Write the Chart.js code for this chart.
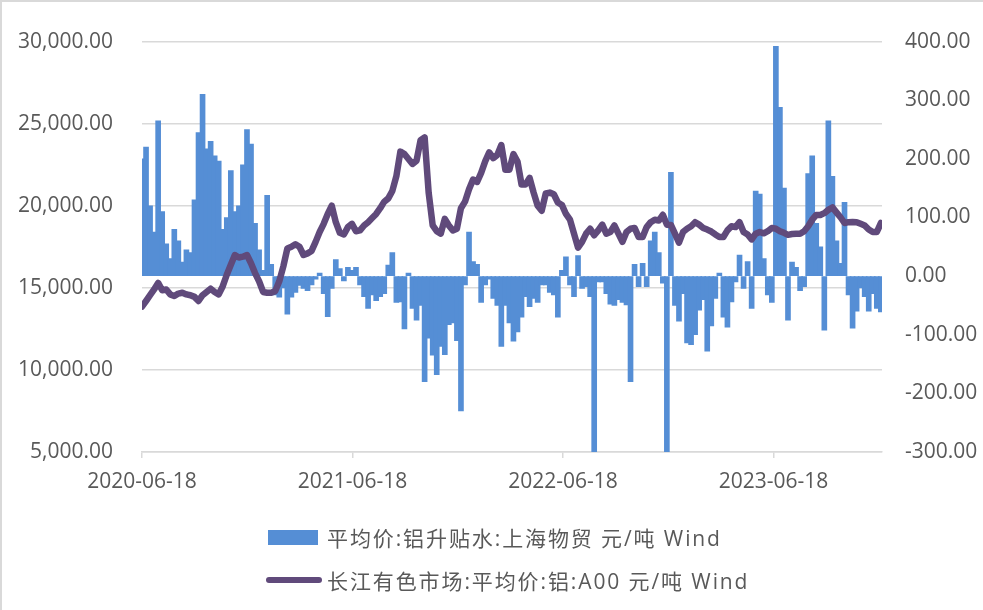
<!DOCTYPE html>
<html lang="zh-CN">
<head>
<meta charset="utf-8">
<title>铝升贴水与长江有色A00铝价</title>
<script src="https://cdn.jsdelivr.net/npm/chart.js"></script>
<style>
  html, body { margin: 0; padding: 0; background: #fff; }
  .wrap { position: relative; width: 983px; height: 610px; overflow: hidden; }
  .frame {
    position: absolute; left: 0; top: 0; width: 983px; height: 610px; box-sizing: border-box;
    border-top: 2px solid #d9d9d9; border-left: 2px solid #d9d9d9; pointer-events: none;
  }
  .legend-row {
    position: absolute; display: flex; align-items: center; height: 30px; white-space: nowrap;
    font: 21px "Open Sans", "Noto Sans CJK SC", sans-serif; color: #595959; letter-spacing: 1.9px;
  }
  .swatch-bar { width: 50px; height: 15px; background: #558ED5; margin-right: 9px; }
  .swatch-line { width: 56px; height: 6px; border-radius: 3px; background: #604A7B; margin-right: 5px; }
</style>
</head>
<body>
<div class="wrap">
  <canvas id="chart" width="983" height="610"></canvas>
  <div class="legend-row" style="left:268px; top:522px;"><span class="swatch-bar"></span><span id="lgBar"></span></div>
  <div class="legend-row" style="left:266px; top:565px;"><span class="swatch-line"></span><span id="lgLine"></span></div>
  <div class="frame"></div>
</div>
<script>
// weekly observations (Thursdays)
const dates = [
  '2020-06-18','2020-06-25','2020-07-02','2020-07-09','2020-07-16','2020-07-23','2020-07-30','2020-08-06','2020-08-13','2020-08-20',
  '2020-08-27','2020-09-03','2020-09-10','2020-09-17','2020-09-24','2020-10-01','2020-10-08','2020-10-15','2020-10-22','2020-10-29',
  '2020-11-05','2020-11-12','2020-11-19','2020-11-26','2020-12-03','2020-12-10','2020-12-17','2020-12-24','2020-12-31',
  '2021-01-07','2021-01-14','2021-01-21','2021-01-28','2021-02-04','2021-02-11','2021-02-18','2021-02-25','2021-03-04','2021-03-11',
  '2021-03-18','2021-03-25','2021-04-01','2021-04-08','2021-04-15','2021-04-22','2021-04-29','2021-05-06','2021-05-13','2021-05-20',
  '2021-05-27','2021-06-03','2021-06-10','2021-06-17','2021-06-24','2021-07-01','2021-07-08','2021-07-15','2021-07-22','2021-07-29',
  '2021-08-05','2021-08-12','2021-08-19','2021-08-26','2021-09-02','2021-09-09','2021-09-16','2021-09-23','2021-09-30','2021-10-07',
  '2021-10-14','2021-10-21','2021-10-28','2021-11-04','2021-11-11','2021-11-18','2021-11-25','2021-12-02','2021-12-09','2021-12-16',
  '2021-12-23','2021-12-30',
  '2022-01-06','2022-01-13','2022-01-20','2022-01-27','2022-02-03','2022-02-10','2022-02-17','2022-02-24','2022-03-03','2022-03-10',
  '2022-03-17','2022-03-24','2022-03-31','2022-04-07','2022-04-14','2022-04-21','2022-04-28','2022-05-05','2022-05-12','2022-05-19',
  '2022-05-26','2022-06-02','2022-06-09','2022-06-16','2022-06-23','2022-06-30','2022-07-07','2022-07-14','2022-07-21','2022-07-28',
  '2022-08-04','2022-08-11','2022-08-18','2022-08-25','2022-09-01','2022-09-08','2022-09-15','2022-09-22','2022-09-29','2022-10-06',
  '2022-10-13','2022-10-20','2022-10-27','2022-11-03','2022-11-10','2022-11-17','2022-11-24','2022-12-01','2022-12-08','2022-12-15',
  '2022-12-22','2022-12-29',
  '2023-01-05','2023-01-12','2023-01-19','2023-01-26','2023-02-02','2023-02-09','2023-02-16','2023-02-23','2023-03-02','2023-03-09',
  '2023-03-16','2023-03-23','2023-03-30','2023-04-06','2023-04-13','2023-04-20','2023-04-27','2023-05-04','2023-05-11','2023-05-18',
  '2023-05-25','2023-06-01','2023-06-08','2023-06-15','2023-06-22','2023-06-29','2023-07-06','2023-07-13','2023-07-20','2023-07-27',
  '2023-08-03','2023-08-10','2023-08-17','2023-08-24','2023-08-31','2023-09-07','2023-09-14','2023-09-21','2023-09-28','2023-10-05',
  '2023-10-12','2023-10-19','2023-10-26','2023-11-02','2023-11-09','2023-11-16','2023-11-23','2023-11-30','2023-12-07','2023-12-14',
  '2023-12-21'
];

// 平均价:铝升贴水:上海物贸 (元/吨), right axis
const premium = [
  200, 220, 120, 75, 265, 110, 55, 30, 80, 60,
  24, 45, 40, 130, 245, 310, 217, 230, 205, 196,
  80, 100, 180, 110, 120, 190, 250, 225, 90, 45,
  10, 138, 20, -32, -36, -20, -65, -36, -28, -16,
  -21, -25, -15, -5, 5, -30, -69, -21, 28, 13,
  -8, 15, 10, 15, -15, -35, -55, -32, -42, -35,
  -30, 19, 40, -45, -44, -90, 5, -55, -75, -50,
  -180, -106, -135, -168, -120, -134, -83, -80, -110, -230,
  -15, 75, 25, 20, -45, -15, -5, -38, -50, -120,
  -50, -80, -111, -95, -70, -35, -52, -38, -45, -15,
  -15, -28, -32, -70, 10, 33, -15, -35, 35, -21,
  -18, -35, -300, -10, -10, -30, -48, -50, -40, -45,
  -49, -180, 20, -18, 22, -18, 60, 75, 40, -12,
  -300, 177, -50, -77, -30, -114, -117, -100, -58, -40,
  -128, -85, -38, 5, -70, -87, -44, -10, 36, -21,
  25, -55, 145, 140, 30, -32, -45, 392, 288, 150,
  -75, 24, 15, -25, -18, 175, 205, 90, 50, -92,
  265, 170, 60, 22, 126, -32, -89, -60, -20, -35,
  -60, -30, -55, -61
];

// 长江有色市场:平均价:铝:A00 (元/吨), left axis
const a00Price = [
  13860, 14200, 14550, 14900, 15300, 14850, 14900, 14600, 14500, 14650,
  14700, 14600, 14550, 14450, 14200, 14550, 14750, 14950, 14750, 14600,
  15100, 15800, 16400, 17000, 16850, 16900, 17000, 16500, 15900, 15400,
  14750, 14700, 14700, 14800, 15400, 16300, 17400, 17500, 17650, 17500,
  17000, 17100, 17250, 17800, 18400, 18900, 19500, 20000, 19000, 18350,
  18250, 18700, 18900, 18450, 18500, 18800, 19000, 19250, 19500, 19850,
  20250, 20450, 20900, 21800, 23300, 23150, 22850, 22550, 22750, 24000,
  24170, 20800, 18800, 18450, 18300, 19200, 18800, 18500, 18600, 19850,
  20250, 21000, 21600, 21450, 22000, 22700, 23250, 22900, 23100, 23700,
  22200, 22200, 23150, 22700, 21300, 21300, 21700, 20800, 20000, 19700,
  20750, 20800, 20700, 20200, 20050, 19500, 19150, 18300, 17450, 17800,
  18300, 18600, 18200, 18500, 18850, 18300, 18400, 18800, 18300, 17800,
  18400, 18600, 18650, 18100, 18100, 18700, 19000, 19150, 19100, 19450,
  18850, 18830, 18300, 17750, 18400, 18600, 18750, 19000, 18850, 18650,
  18550, 18430, 18250, 18100, 18100, 18500, 18750, 18700, 19000, 18400,
  18250, 17950, 18300, 18400, 18320, 18450, 18650, 18600, 18450, 18350,
  18230, 18280, 18300, 18300, 18450, 18750, 19150, 19440, 19440, 19550,
  19750, 19900, 19600, 19300, 18950, 19000, 19010, 19000, 18900, 18800,
  18550, 18400, 18400, 18950
];

const tickLabels = ['2020-06-18', '2021-06-18', '2022-06-18', '2023-06-18'];
const axisEnd = '2023-12-23';

const seriesNames = ['平均价:铝升贴水:上海物贸 元/吨 Wind', '长江有色市场:平均价:铝:A00 元/吨 Wind'];

const DAY = 86400000;
const t0 = Date.parse(dates[0]);
const toDay = s => Math.round((Date.parse(s) - t0) / DAY);
const days = dates.map(toDay);
const tickDays = tickLabels.map(toDay);

const labelFont = { family: '"Open Sans", "Noto Sans CJK SC", sans-serif', size: 21 };
const textColor = '#595959';
const gridColor = '#d9d9d9';

document.getElementById('lgBar').textContent = seriesNames[0];
document.getElementById('lgLine').textContent = seriesNames[1];

function drawChart() {
  new Chart(document.getElementById('chart'), {
    type: 'bar',
    data: {
      datasets: [
        {
          type: 'line',
          label: seriesNames[1],
          data: days.map((d, i) => ({ x: d, y: a00Price[i] })),
          yAxisID: 'y',
          borderColor: '#604A7B',
          borderWidth: 6.5,
          borderJoinStyle: 'round',
          borderCapStyle: 'round',
          pointRadius: 0,
          tension: 0,
          order: 0
        },
        {
          type: 'bar',
          label: seriesNames[0],
          data: days.map((d, i) => ({ x: d, y: premium[i] })),
          yAxisID: 'y1',
          backgroundColor: '#558ED5',
          borderWidth: 0,
          barThickness: 5,   // a touch wider than the weekly step so neighbours overlap
          order: 1
        }
      ]
    },
    options: {
      responsive: false,
      animation: false,
      layout: { padding: { top: 39, left: 0, right: 0, bottom: 0 } },
      plugins: {
        legend: { display: false },
        tooltip: { enabled: false }
      },
      scales: {
        x: {
          type: 'linear',
          min: 0,
          max: toDay(axisEnd),
          offset: false,
          grid: { drawOnChartArea: false, drawTicks: true, tickLength: 6, color: gridColor, lineWidth: 1.5, offset: false },
          border: { display: true, color: gridColor, width: 1.5 },
          ticks: {
            font: labelFont, color: textColor, padding: 11, maxRotation: 0, autoSkip: false,
            callback: v => tickLabels[tickDays.indexOf(v)] || ''
          },
          afterBuildTicks: s => { s.ticks = tickDays.map(v => ({ value: v })); },
          afterFit: s => { s.height = 610 - 452; }
        },
        y: {
          position: 'left',
          min: 5000,
          max: 30000,
          grid: { color: gridColor, lineWidth: 1.5, drawTicks: false },
          border: { display: false },
          ticks: {
            stepSize: 5000, font: labelFont, color: textColor, padding: 29,
            callback: v => v.toLocaleString('en-US', { minimumFractionDigits: 2, maximumFractionDigits: 2 })
          },
          afterFit: s => { s.width = 142; }
        },
        y1: {
          position: 'right',
          min: -300,
          max: 400,
          grid: { drawOnChartArea: false, drawTicks: false },
          border: { display: false },
          ticks: {
            stepSize: 100, font: labelFont, color: textColor, padding: 23,
            callback: v => v.toFixed(2)
          },
          afterFit: s => { s.width = 983 - 882; }
        }
      }
    }
  });
}

document.fonts.load('21px "Open Sans"').then(drawChart, drawChart);
</script>
</body>
</html>
